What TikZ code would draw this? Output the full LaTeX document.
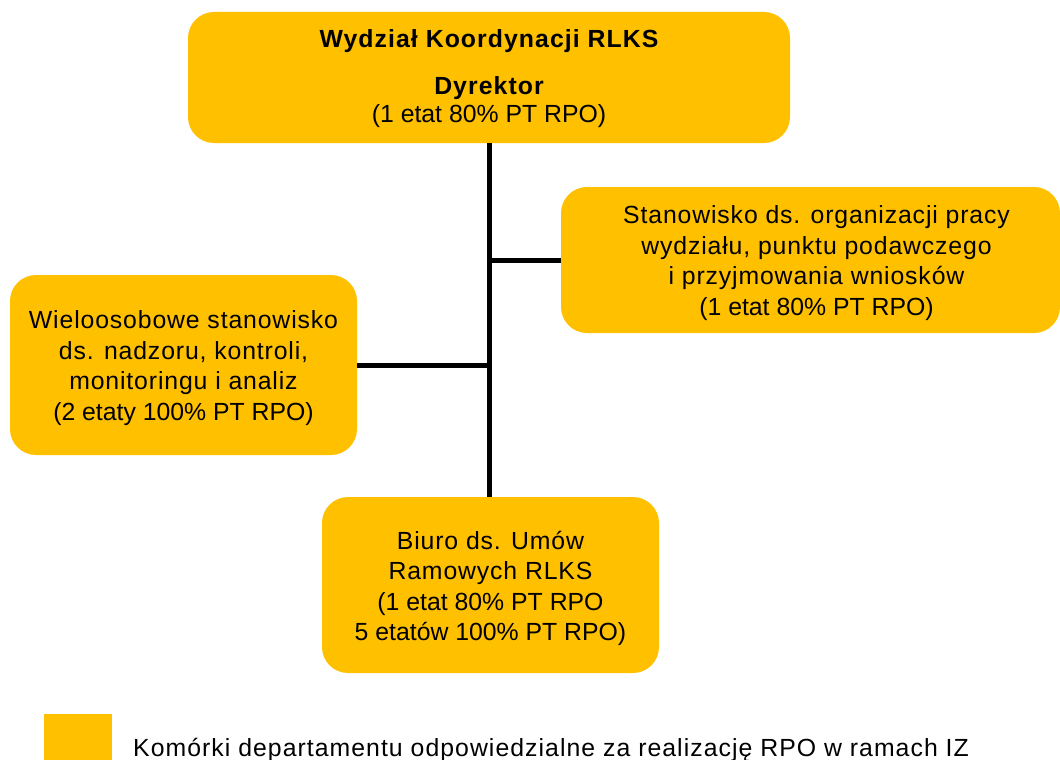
\documentclass[tikz,border=0pt]{standalone}
\usepackage{fontspec}
\setmainfont{Liberation Sans}
\definecolor{cellfill}{HTML}{FFC000}
\newcommand{\wide}[1]{{\addfontfeature{LetterSpace=3.5}#1}}
\newcommand{\wideb}[1]{{\addfontfeature{LetterSpace=4.3}#1}}
\newcommand{\widel}[1]{{\addfontfeature{LetterSpace=4.2}#1}}
\begin{document}
\begin{tikzpicture}[x=1pt,y=-1pt,
  cell/.style={fill=cellfill,draw=none,rounded corners=26pt,inner sep=0pt},
  celltext/.style={inner sep=0pt,align=center,font=\fontsize{24.8}{30.4}\selectfont},
  link/.style={line width=5pt,black}]
\clip (0,0) rectangle (1060,760);
\useasboundingbox (0,0) rectangle (1060,760);
% boxes
\node[cell,minimum width=602pt,minimum height=131pt] (top) at (489,77.5) {};
\node[cell,minimum width=499pt,minimum height=146pt] (right) at (810.5,260) {};
\node[cell,minimum width=347pt,minimum height=180pt] (left) at (183.5,365) {};
\node[cell,minimum width=337pt,minimum height=176pt] (bottom) at (490.5,585) {};
% texts
\node[celltext,anchor=base] (toptitle) at (489,48) {\bfseries\wideb{Wydział Koordynacji RLKS}};
\node[celltext,anchor=base] (toprole) at (489,94) {\bfseries\wideb{Dyrektor}};
\node[celltext,anchor=base] (topetat) at (489,122) {(1 etat 80\% PT RPO)};
\node[celltext,yshift=-3pt] (righttext) at ([xshift=6pt]right.center)
  {\wide{Stanowisko ds. organizacji pracy}\\\wide{wydziału, punktu podawczego}\\\wide{i przyjmowania wniosków}\\(1 etat 80\% PT RPO)};
\node[celltext,yshift=-3pt] (lefttext) at (left.center)
  {\wide{Wieloosobowe stanowisko}\\\wide{ds. nadzoru, kontroli,}\\\wide{monitoringu i analiz}\\(2 etaty 100\% PT RPO)};
\node[celltext,yshift=-3.5pt] (bottomtext) at (bottom.center)
  {\wide{Biuro ds. Umów}\\\wide{Ramowych RLKS}\\(1 etat 80\% PT RPO\\5 etatów 100\% PT RPO)};
% connectors
\draw[link] (top.south) -- (top.south |- bottom.north);
\draw[link] (right.west) -- (right.west -| top.south);
\draw[link] (left.east) -- (left.east -| top.south);
% legend
\fill[cellfill] (44,714) rectangle (112,775) coordinate (legendbox);
\node[anchor=base west,inner sep=0pt,font=\fontsize{24.8}{30}\selectfont] (legendtext) at (133,756)
  {\widel{Komórki departamentu odpowiedzialne za realizację RPO w ramach IZ}};
\end{tikzpicture}
\end{document}
